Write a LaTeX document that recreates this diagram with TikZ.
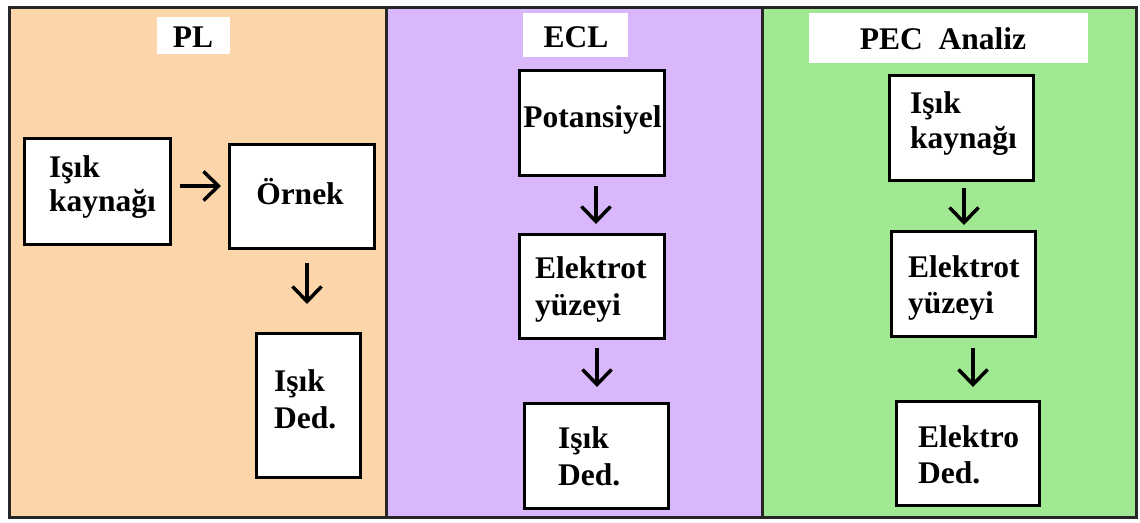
\documentclass[tikz,border=0pt]{standalone}
\usepackage{fontspec}
\setmainfont{Liberation Serif}
\usetikzlibrary{arrows.meta}
\definecolor{plbg}{RGB}{253,213,170}
\definecolor{eclbg}{RGB}{216,184,250}
\definecolor{pecbg}{RGB}{160,232,145}
\tikzset{
  boxnode/.style={draw=black, line width=3.5pt, fill=white, inner sep=0pt, outer sep=0pt, rectangle},
  titlebox/.style={fill=white, inner sep=0pt, outer sep=0pt, rectangle},
  txt/.style={font=\fontsize{31.5}{36}\selectfont\bfseries, inner sep=0pt, align=left},
  arr/.style={line width=3.5pt, -{Straight Barb[length=15pt,width=29pt]}},
  panelline/.style={line width=3pt, draw=black!85}
}
\begin{document}
\begin{tikzpicture}[x=1pt,y=-1pt]
\useasboundingbox (0,0) rectangle (1140,522);
\fill[white] (0,0) rectangle (1140,522);
% panels
\fill[plbg] (9,7) rectangle (386,517);
\fill[eclbg] (386,7) rectangle (762,517);
\fill[pecbg] (762,7) rectangle (1136,517);
\draw[panelline] (9,7) rectangle (1136,517);
\draw[panelline] (386,7) -- (386,517);
\draw[panelline] (762,7) -- (762,517);

% title boxes
\node[titlebox, minimum width=73pt, minimum height=37pt] (t1) at (193.5,35.5) {};
\node[titlebox, minimum width=105pt, minimum height=44pt] (t2) at (575.5,35) {};
\node[titlebox, minimum width=279pt, minimum height=50pt] (t3) at (948.5,38) {};
\node[txt, anchor=base] (t1l) at (193,47) {PL};
\node[txt, anchor=base] (t2l) at (576,47) {ECL};
\node[txt, anchor=base] (t3l) at (943,49) {PEC\ \ Analiz};

% PL boxes
\node[boxnode, minimum width=146pt, minimum height=106pt] (k1) at (97.5,191.5) {};
\node[boxnode, minimum width=145pt, minimum height=104pt] (o1) at (302,196.5) {};
\node[boxnode, minimum width=104pt, minimum height=144pt] (d1) at (308.5,405.5) {};
% ECL boxes
\node[boxnode, minimum width=145pt, minimum height=105pt] (p2) at (592,123) {};
\node[boxnode, minimum width=145pt, minimum height=104pt] (e2) at (592,286.5) {};
\node[boxnode, minimum width=144pt, minimum height=105pt] (d2) at (596.5,456) {};
% PEC boxes
\node[boxnode, minimum width=144pt, minimum height=105pt] (k3) at (961.5,128) {};
\node[boxnode, minimum width=144pt, minimum height=105pt] (e3) at (963.5,284) {};
\node[boxnode, minimum width=143pt, minimum height=104pt] (d3) at (968,453.5) {};

% texts (anchor base = last line baseline)
\node[txt, anchor=base west] (k1l) at (49,211) {Işık\\[-2pt]kaynağı};
\node[txt, anchor=base] (o1l) at (300,204) {Örnek};
\node[txt, anchor=base west] (d1l) at (274,428) {Işık\\[1pt]Ded.};
\node[txt, anchor=base] (p2l) at (592.5,127) {Potansiyel};
\node[txt, anchor=base west] (e2l) at (535,315) {Elektrot\\[1pt]yüzeyi};
\node[txt, anchor=base west] (d2l) at (558,485) {Işık\\[1pt]Ded.};
\node[txt, anchor=base west] (k3l) at (910,148) {Işık\\[-1pt]kaynağı};
\node[txt, anchor=base west] (e3l) at (908,313) {Elektrot\\[0pt]yüzeyi};
\node[txt, anchor=base west] (d3l) at (918,483) {Elektro\\[0pt]Ded.};

% arrows
\draw[arr, shorten <=9.5pt, shorten >=8.5pt] ([yshift=5.5pt]k1.east) -- ([yshift=10.5pt]o1.west);
\draw[arr, shorten <=14.5pt, shorten >=29.5pt] ([xshift=5pt]o1.south) -- ([xshift=-1.5pt]d1.north);
\draw[arr, shorten <=10.5pt, shorten >=10.5pt] ([xshift=4pt]p2.south) -- ([xshift=4pt]e2.north);
\draw[arr, shorten <=9.5pt, shorten >=16.5pt] ([xshift=5pt]e2.south) -- ([xshift=0.5pt]d2.north);
\draw[arr, shorten <=7.5pt, shorten >=6.5pt] ([xshift=2.5pt]k3.south) -- ([xshift=0.5pt]e3.north);
\draw[arr, shorten <=11.5pt, shorten >=14.5pt] ([xshift=9.5pt]e3.south) -- ([xshift=5pt]d3.north);
\end{tikzpicture}
\end{document}
